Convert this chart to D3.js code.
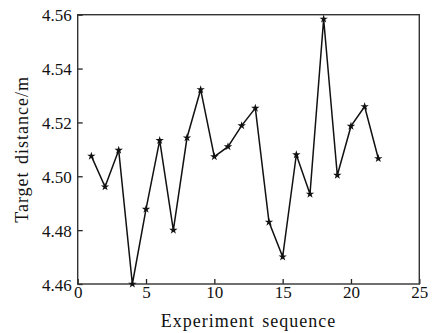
<!DOCTYPE html>
<html><head><meta charset="utf-8">
<script src="https://cdn.jsdelivr.net/npm/d3@7"></script>
<style>body{margin:0;background:#fff}svg{display:block}text{font-family:"Liberation Serif","Times New Roman",serif;fill:#111}</style>
</head><body>
<script>
const xValues = [1,2,3,4,5,6,7,8,9,10,11,12,13,14,15,16,17,18,19,20,21,22];
const yValues = [4.5075,4.4961,4.5097,4.4600,4.4878,4.5133,4.4800,4.5143,4.5322,4.5073,4.5110,4.5188,4.5253,4.4830,4.4701,4.5080,4.4934,4.5584,4.5004,4.5186,4.5259,4.5066];
const xTicks = [0,5,10,15,20,25];
const yTicks = [4.46,4.48,4.50,4.52,4.54,4.56];
const xTitle = "Experiment sequence";
const yTitle = "Target distance/m";

const W=433,H=333, L=77.7, R=419.3, T=14.7, B=284;
const svg=d3.select("body").append("svg").attr("width",W).attr("height",H);
const x=d3.scaleLinear().domain([0,25]).range([L,R]);
const y=d3.scaleLinear().domain([4.46,4.56]).range([B,T]);

const gx=svg.append("g").attr("transform",`translate(0,${B})`)
  .call(d3.axisBottom(x).tickValues(xTicks).tickFormat(d3.format("d")).tickSizeInner(-5).tickSizeOuter(0).tickPadding(3));
const gy=svg.append("g").attr("transform",`translate(${L},0)`)
  .call(d3.axisLeft(y).tickValues(yTicks).tickFormat(d3.format(".2f")).tickSizeInner(-5).tickSizeOuter(0).tickPadding(6));
[gx,gy].forEach(g=>{g.select(".domain").remove();g.selectAll("line").attr("stroke","#222").attr("stroke-width",1.3);
  g.selectAll("text").style("font-size","17px").attr("fill","#111");});
gx.selectAll("text").attr("dy","0.62em");
gy.selectAll("text").attr("dy","0.36em");

svg.append("rect").attr("x",L).attr("y",T).attr("width",R-L).attr("height",B-T)
  .attr("fill","none").attr("stroke","#333").attr("stroke-width",1.4);

const data=xValues.map((v,i)=>[v,yValues[i]]);
svg.append("path").datum(data).attr("fill","none").attr("stroke","#111").attr("stroke-width",1.5)
  .attr("d",d3.line().x(d=>x(d[0])).y(d=>y(d[1])));
svg.selectAll(".m").data(data).enter().append("path")
  .attr("transform",d=>`translate(${x(d[0])},${y(d[1])})`)
  .attr("d",d3.symbol().type(d3.symbolStar).size(22)).attr("fill","#111");

svg.append("text").attr("x",(L+R)/2).attr("y",326.5).attr("text-anchor","middle")
  .style("font-size","18px").style("letter-spacing","1px").style("word-spacing","2px").text(xTitle);
svg.append("text").attr("transform",`translate(28,${(T+B)/2}) rotate(-90)`).attr("text-anchor","middle")
  .style("font-size","18px").style("letter-spacing","1px").style("word-spacing","2px").text(yTitle);
</script>
</body></html>
